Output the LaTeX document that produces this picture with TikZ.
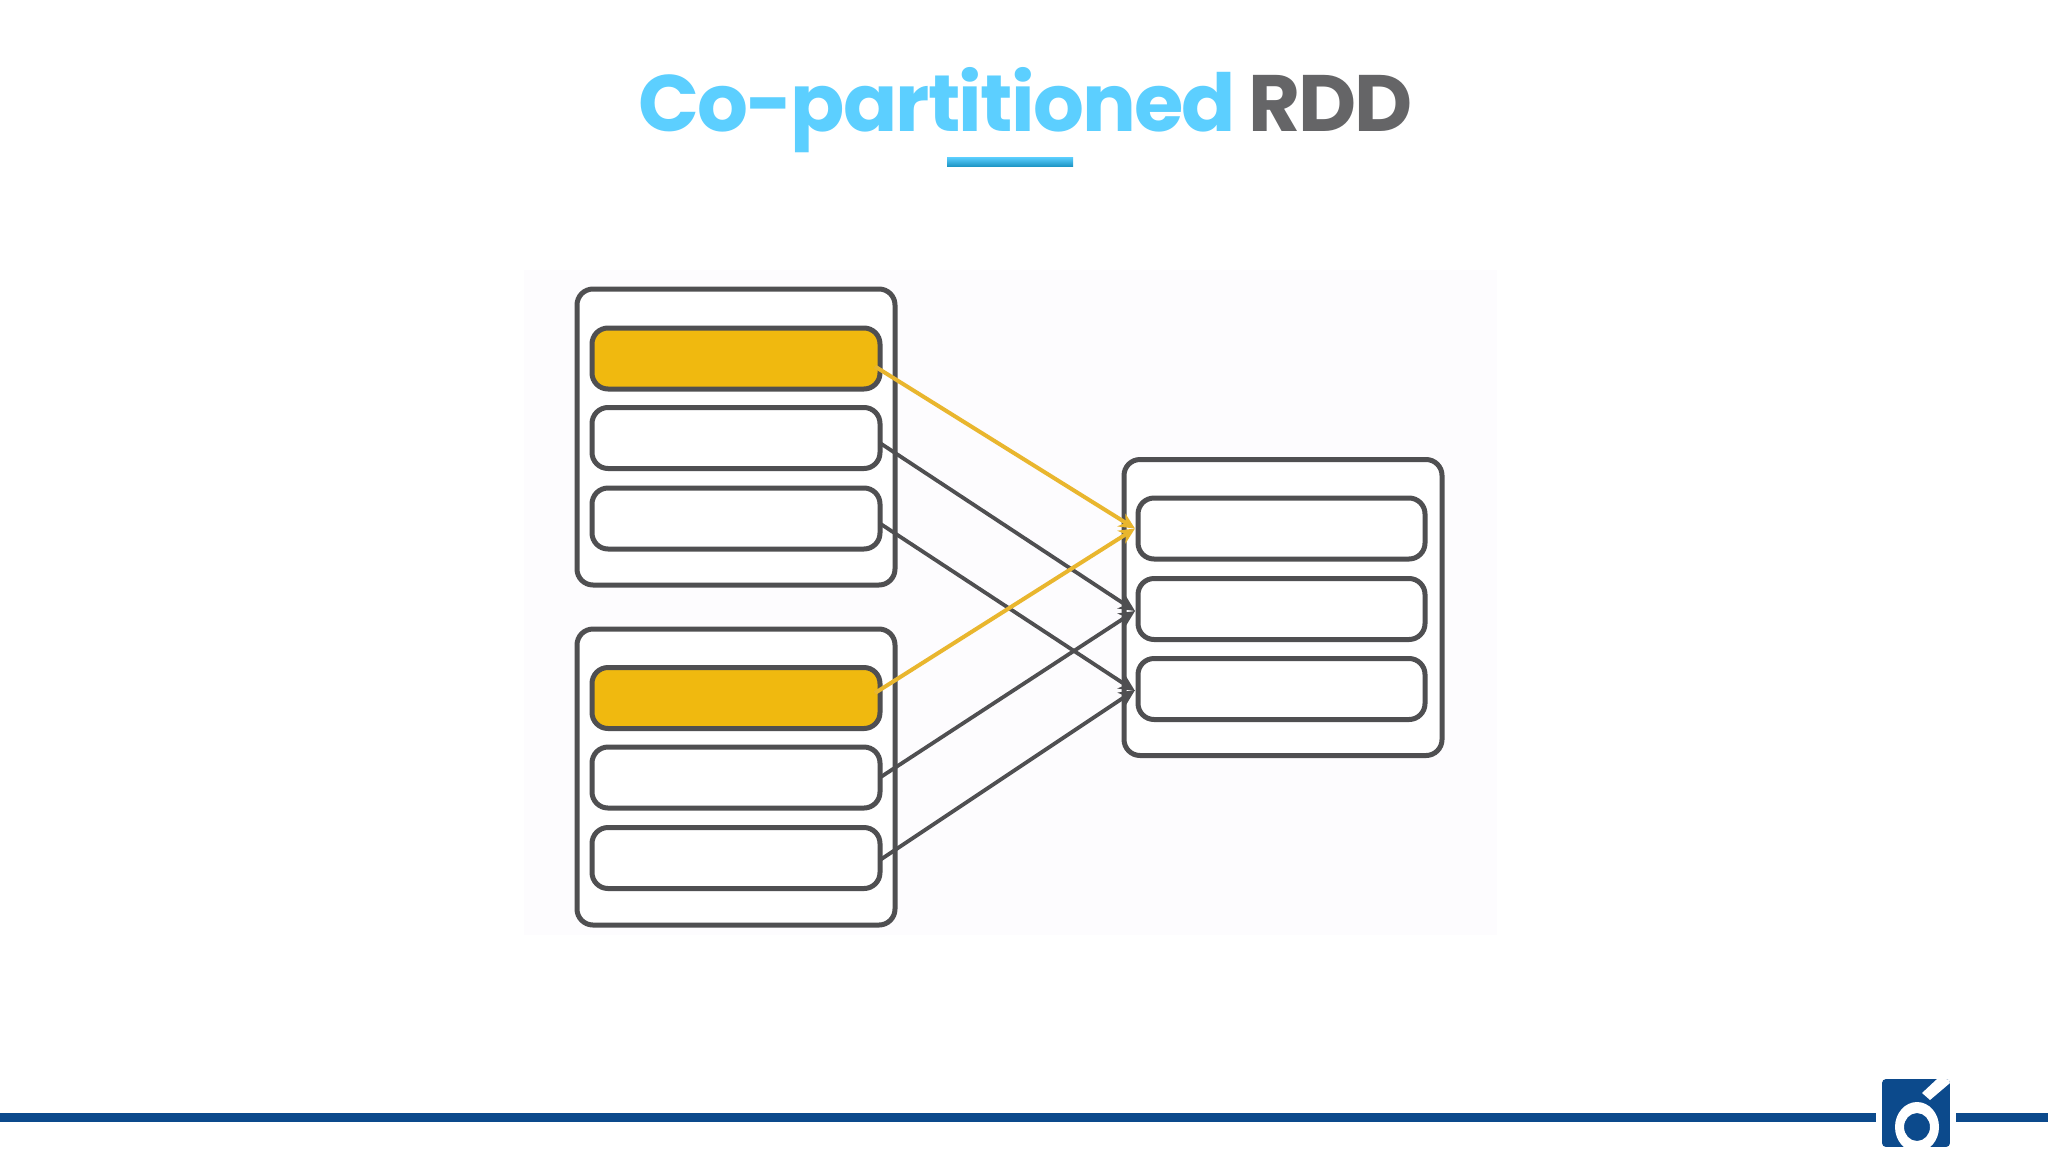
\documentclass[tikz,border=0pt]{standalone}
\usepackage{fontspec}
\setmainfont{Poppins}
\newfontfamily\titlefont[LetterSpace=-2.3]{Poppins}
\usetikzlibrary{arrows.meta}
\definecolor{boxline}{HTML}{4F4F51}
\definecolor{amber}{HTML}{F0B90F}
\definecolor{amberline}{HTML}{E9B62E}
\definecolor{titleblue}{HTML}{5CCFFF}
\definecolor{barlow}{HTML}{1F97C6}
\definecolor{titlegrey}{HTML}{656567}
\definecolor{navy}{HTML}{0C4A8C}
\definecolor{panel}{HTML}{FDFCFE}
\tikzset{
  x=1pt,y=-1pt,
  outerbox/.style={draw=boxline,line width=5pt,rounded corners=16pt,fill=white,inner sep=0pt,outer sep=0pt,minimum width=318pt,minimum height=296pt},
  innerbox/.style={draw=boxline,line width=5pt,rounded corners=16pt,fill=white,inner sep=0pt,outer sep=0pt,minimum width=288pt,minimum height=61pt},
  hotbox/.style={innerbox,fill=amber},
  rbox/.style={innerbox,minimum width=287pt},
  link/.style={draw=boxline,line width=3.8pt,-{Stealth[length=16pt,width=15pt,inset=5pt]}},
  hotlink/.style={draw=amberline,line width=4pt,-{Stealth[length=16pt,width=15pt,inset=5pt]}},
  titletext/.style={inner sep=0pt,outer sep=0pt,anchor=base west,font=\fontsize{80}{96}\selectfont\titlefont\bfseries}
}
\begin{document}
\begin{tikzpicture}
\useasboundingbox (0,0) rectangle (2048,1152);
\fill[white] (0,0) rectangle (2048,1152);
\fill[panel] (524,270) rectangle (1497,935);
% title
\node[titletext,text=titleblue] (tA) at (638,131) {Co-partitioned};
\node[titletext,text=titlegrey] (tB) at (1248,131) {RDD};
\shade[top color=titleblue,bottom color=barlow] (947,157) rectangle (1073,166);
% left top group
\node[outerbox] (o1) at (736,437) {};
\node[hotbox] (a1) at (736,358.5) {};
\node[innerbox] (a2) at (736,438) {};
\node[innerbox] (a3) at (736,518.5) {};
% left bottom group
\node[outerbox] (o2) at (736,777) {};
\node[hotbox] (b1) at (736,698) {};
\node[innerbox] (b2) at (736,777.5) {};
\node[innerbox] (b3) at (736,858) {};
% right group
\node[outerbox] (o3) at (1283,607.5) {};
\node[rbox] (c1) at (1281.5,528.5) {};
\node[rbox] (c2) at (1281.5,609) {};
\node[rbox] (c3) at (1281.5,689) {};
% connectors
\draw[link] ([yshift=-5pt]a2.east) -- ([xshift=-3pt,yshift=-2pt]c2.west);
\draw[link] ([yshift=-5pt]a3.east) -- ([xshift=-3pt,yshift=-2pt]c3.west);
\draw[link] ([yshift=0pt]b2.east) -- ([xshift=-3pt,yshift=-2pt]c2.west);
\draw[link] ([yshift=-2pt]b3.east) -- ([xshift=-3pt,yshift=-1pt]c3.west);
\draw[hotlink] ([xshift=-5pt,yshift=-8pt]a1.east) -- ([xshift=-3pt,yshift=0pt]c1.west);
\draw[hotlink] ([xshift=-5pt,yshift=5pt]b1.east) -- ([xshift=-3pt,yshift=0pt]c1.west);
% footer
\fill[navy] (0,1113) rectangle (1876,1122);
\fill[navy] (1956,1113) rectangle (2048,1122);
\begin{scope}
\clip[rounded corners=4pt] (1882,1079) rectangle (1950,1147);
\fill[navy] (1882,1079) rectangle (1950,1147);
\fill[white,even odd rule] (1917,1127) ellipse [x radius=22pt,y radius=25pt] (1917,1127) ellipse [x radius=13pt,y radius=14pt];
\fill[white] (1922,1093) -- (1937,1079) -- (1950,1079) -- (1950,1083) -- (1930,1100) -- cycle;
\end{scope}
\end{tikzpicture}
\end{document}
